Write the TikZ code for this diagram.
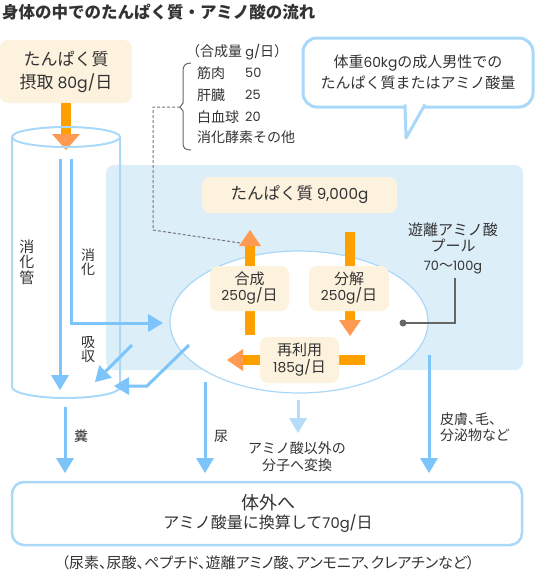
\documentclass[tikz,border=0pt]{standalone}
\usepackage{fontspec}
\setmainfont{Noto Sans CJK JP}
\newfontfamily\lat[Scale=0.92]{Poppins}
\usetikzlibrary{arrows.meta,shapes.geometric}
\definecolor{cream}{HTML}{FDF2DE}
\definecolor{panelc}{HTML}{DCEEF8}
\definecolor{bstroke}{HTML}{A9D8F8}
\definecolor{barrowc}{HTML}{7CC4FA}
\definecolor{parrowc}{HTML}{B5DDFA}
\definecolor{oshaft}{HTML}{FFA000}
\definecolor{ohead}{HTML}{FF9A52}
\definecolor{txt}{HTML}{333333}
\definecolor{gry}{HTML}{666666}
\newcommand\myfs[1]{\fontsize{#1}{#1}\selectfont}
\newcommand\la[1]{{\lat #1}}
\begin{document}
\begin{tikzpicture}[x=1pt,y=-1pt,
  every node/.style={text=txt,inner sep=0pt},
  cbox/.style={fill=cream,rounded corners=8pt,align=center},
  oarr/.style={line width=10pt,draw=oshaft,-{Triangle[width=#1,length=16pt,line width=0pt,fill=ohead,color=ohead]}},
  oarr/.default=22pt,
  barr/.style={line width=3pt,draw=barrowc,-{Triangle[width=18pt,length=15pt,line width=0pt,fill=barrowc,color=barrowc]}},
  parr/.style={line width=3pt,draw=parrowc,-{Triangle[width=18pt,length=15pt,line width=0pt,fill=parrowc,color=parrowc]}},
  cyl/.style={draw=bstroke,line width=2pt},
  lbl/.style={font=\myfs{14}},
]
\useasboundingbox (0,0) rectangle (535,571);

% title
\node[anchor=west] (title) at (2,12) {\myfs{16.5}\bfseries 身体の中でのたんぱく質・アミノ酸の流れ};

% light blue panel
\fill[panelc,rounded corners=8pt] (106,165) rectangle (523,370);

% intake box
\node[cbox,minimum width=132pt,minimum height=63pt,font=\fontsize{17}{23}\selectfont] (intake) at (66,71.5) {たんぱく質\\摂取 \la{80g/}日};
\coordinate (ia) at (66,150);
\draw[oarr=28pt] (intake.south) -- (ia);

% cylinder
\draw[cyl] (66,137) ellipse [x radius=54pt,y radius=10pt];
\draw[cyl] (12,137) -- (12,387) arc[start angle=180,end angle=360,x radius=54pt,y radius=11pt] -- (120,137);

\node[align=center,font=\fontsize{15}{15.5}\selectfont] (gut) at (27,262) {消\\化\\管};
\node[align=center,font=\fontsize{14}{14}\selectfont] (dig) at (88,262) {消\\化};
\node[align=center,font=\fontsize{14}{14}\selectfont] (abs) at (88,350) {吸\\収};

% pool ellipse
\node[ellipse,draw=bstroke,fill=white,line width=1.2pt,minimum width=258pt,minimum height=142pt] (pool) at (299,322) {};

% arrows in the gut
\coordinate (a1s) at (60,159);
\coordinate (a1e) at (60,390);
\draw[barr] (a1s) -- (a1e);
\coordinate (a2s) at (71,159);
\coordinate (a2e) at (163,323);
\draw[barr] (a2s) |- (a2e);
\coordinate (c1s) at (132,345);
\coordinate (c1e) at (95,382);
\draw[barr] (c1s) -- (c1e);
\coordinate (d1s) at (189,345);
\coordinate (d1m) at (147,386);
\coordinate (d1e) at (114,386);
\draw[barr] (d1s) -- (d1m) -- (d1e);

% protein box
\node[cbox,minimum width=195pt,minimum height=36pt,font=\myfs{16.5}] (prot) at (299.5,195) {たんぱく質 \la{9,000g}};

% orange cycle
\coordinate (sy0) at (250,335);
\coordinate (sy1) at (250,230);
\draw[oarr] (sy0) -- (sy1);
\coordinate (de0) at (350,232);
\coordinate (de1) at (350,336);
\draw[oarr] (de0) -- (de1);
\coordinate (re0) at (365,360);
\coordinate (re1) at (227,360);
\draw[oarr] (re0) -- (re1);

\node[cbox,minimum width=79pt,minimum height=45pt,font=\fontsize{15}{16}\selectfont] (syn) at (249.5,288.5) {合成\\\la{250g/}日};
\node[cbox,minimum width=80pt,minimum height=45pt,font=\fontsize{15}{16}\selectfont] (dec) at (349,288.5) {分解\\\la{250g/}日};
\node[cbox,minimum width=79pt,minimum height=46pt,font=\fontsize{15}{17}\selectfont] (reu) at (299.5,360) {再利用\\\la{185g/}日};

% free amino acid pool label
\node[align=center,font=\fontsize{15}{16}\selectfont] (fl) at (453,248) {遊離アミノ酸\\プール\\[3pt]{\myfs{14}\la{70}〜\la{100g}}};
\coordinate (g0) at (455,278);
\node[circle,fill=gry,minimum size=7pt] (dot) at (403,323) {};
\draw[gry,line width=1.5pt] (g0) |- (dot.center);

% synthesis list and brace
\node[anchor=west,font=\myfs{14}] (hd) at (186,52) {（合成量 \la{g/}日）};
\node[anchor=west,font=\myfs{14}] (l1) at (197,73) {筋肉};
\node[anchor=west,font=\myfs{14}] (v1) at (245,73) {\la{50}};
\node[anchor=west,font=\myfs{14}] (l2) at (197,95) {肝臓};
\node[anchor=west,font=\myfs{14}] (v2) at (245,95) {\la{25}};
\node[anchor=west,font=\myfs{14}] (l3) at (197,117) {白血球};
\node[anchor=west,font=\myfs{14}] (v3) at (245,117) {\la{20}};
\node[anchor=west,font=\myfs{14}] (l4) at (197,137) {消化酵素その他};
\draw[gry,line width=1pt] (191,63) .. controls (185,63) and (183,66) .. (183,71) -- (183,103) -- (180,107) -- (183,111) -- (183,143) .. controls (183,148) and (185,150) .. (191,150);
\coordinate (bm) at (180,107);
\coordinate (dk1) at (153,107);
\coordinate (dk2) at (153,230);
\coordinate (dk3) at (240,243);
\draw[gry!90,line width=1pt,dash pattern=on 3pt off 2pt] (bm) -- (dk1) -- (dk2) -- (dk3);

% speech bubble
\node[draw=bstroke,line width=3pt,fill=white,rounded corners=14pt,minimum width=230pt,minimum height=69pt,align=center,font=\fontsize{15}{21}\selectfont] (bub) at (418,72.5) {体重\la{60kg}の成人男性での\\たんぱく質またはアミノ酸量};
\coordinate (t0) at (405,104.5);
\coordinate (t1) at (406,138);
\coordinate (t2) at (425,104.5);
\filldraw[fill=white,draw=bstroke,line width=3pt,line join=round] (t0) -- (t1) -- (t2);

% outgoing box
\node[draw=bstroke,line width=2.5pt,fill=white,rounded corners=12pt,minimum width=510pt,minimum height=63pt] (out) at (267,513.5) {};
\node[font=\myfs{18}] (o1) at (268,503) {体外へ};
\node[font=\myfs{16}] (o2) at (268,524) {アミノ酸量に換算して\la{70g/}日};
\node[font=\myfs{15}] (foot) at (268,563) {\addfontfeature{RawFeature=+palt}（尿素、尿酸、ペプチド、遊離アミノ酸、アンモニア、クレアチンなど）};

% outgoing arrows
\coordinate (f0) at (65,407);
\coordinate (f1) at (65,473);
\draw[barr] (f0) -- (f1);
\node[lbl] (feces) at (81,436) {糞};
\coordinate (u0) at (205,382);
\coordinate (u1) at (205,473);
\draw[barr] (u0) -- (u1);
\node[lbl] (urine) at (221,436) {尿};
\coordinate (p0) at (298,400);
\coordinate (p1) at (298,433);
\draw[parr] (p0) -- (p1);
\node[align=center,font=\fontsize{14}{17}\selectfont] (conv) at (297,456.5) {アミノ酸以外の\\分子へ変換};
\coordinate (s0) at (429,355);
\coordinate (s1) at (429,473);
\draw[barr] (s0) -- (s1);
\node[anchor=west,align=left,font=\fontsize{14}{16}\selectfont] (skin) at (440,427) {\addfontfeature{RawFeature=+palt}皮膚、毛、\\\addfontfeature{RawFeature=+palt}分泌物など};
\end{tikzpicture}
\end{document}
